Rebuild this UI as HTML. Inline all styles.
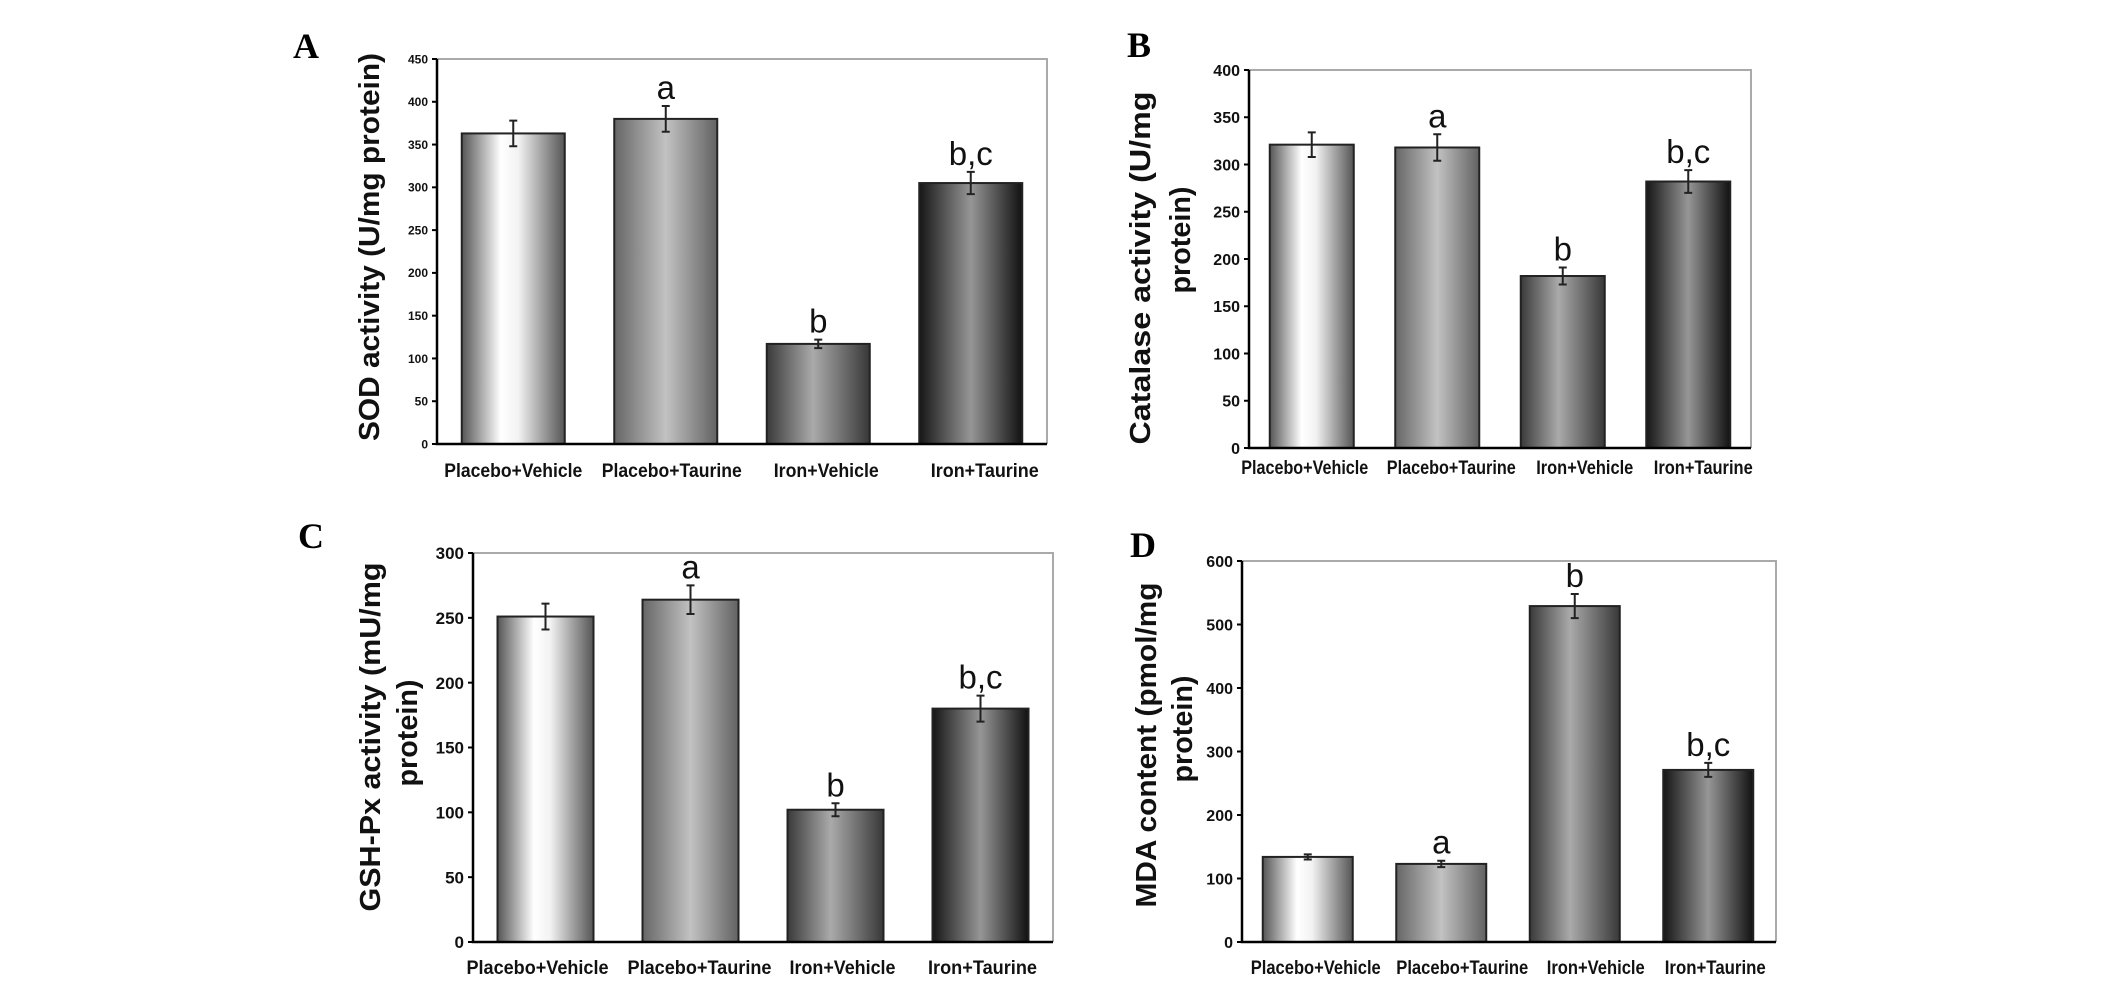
<!DOCTYPE html>
<html><head><meta charset="utf-8"><style>
html,body{margin:0;padding:0;background:#fff;}
svg{display:block;}
.tk{font-family:"Liberation Sans Narrow","Liberation Sans",sans-serif;font-weight:bold;fill:#111;}
.xl{font-family:"Liberation Sans Narrow","Liberation Sans",sans-serif;font-weight:bold;fill:#111;font-size:19px;}
.yt{font-family:"Liberation Sans",sans-serif;font-weight:bold;fill:#111;font-size:29px;}
.sig{font-family:"Liberation Sans",sans-serif;fill:#111;font-size:33px;}
.pl{font-family:"Liberation Serif",serif;font-weight:bold;fill:#000;font-size:36px;}
</style></head><body>
<svg id="fig" width="2126" height="984" viewBox="0 0 2126 984" xmlns="http://www.w3.org/2000/svg">
<defs>
<linearGradient id="g0" x1="0" x2="1" y1="0" y2="0"><stop offset="0" stop-color="#555"/><stop offset="0.38" stop-color="#fff"/><stop offset="0.55" stop-color="#f2f2f2"/><stop offset="1" stop-color="#555"/></linearGradient>
<linearGradient id="g1" x1="0" x2="1" y1="0" y2="0"><stop offset="0" stop-color="#666"/><stop offset="0.5" stop-color="#c2c2c2"/><stop offset="1" stop-color="#626262"/></linearGradient>
<linearGradient id="g2" x1="0" x2="1" y1="0" y2="0"><stop offset="0" stop-color="#3a3a3a"/><stop offset="0.45" stop-color="#aaa"/><stop offset="1" stop-color="#383838"/></linearGradient>
<linearGradient id="g3" x1="0" x2="1" y1="0" y2="0"><stop offset="0" stop-color="#161616"/><stop offset="0.5" stop-color="#969696"/><stop offset="1" stop-color="#111"/></linearGradient>
</defs>
</svg>
<script>
// ---- data ----
const categories = ["Placebo+Vehicle","Placebo+Taurine","Iron+Vehicle","Iron+Taurine"];
const sodValues = [363, 380, 117, 305];
const sodErrors = [15, 15, 5, 13];
const sodLetters = ["", "a", "b", "b,c"];
const sodTicks = [0,50,100,150,200,250,300,350,400,450];
const catValues = [321, 318, 182, 282];
const catErrors = [13, 14, 9, 12];
const catLetters = ["", "a", "b", "b,c"];
const catTicks = [0,50,100,150,200,250,300,350,400];
const gshValues = [251, 264, 102, 180];
const gshErrors = [10, 11, 5, 10];
const gshLetters = ["", "a", "b", "b,c"];
const gshTicks = [0,50,100,150,200,250,300];
const mdaValues = [134, 123, 529, 271];
const mdaErrors = [4, 5, 19, 11];
const mdaLetters = ["", "a", "b", "b,c"];
const mdaTicks = [0,100,200,300,400,500,600];

const NS = "http://www.w3.org/2000/svg";
const svg = document.getElementById("fig");
function mk(tag, attrs, parent){
  const e = document.createElementNS(NS, tag);
  for (const k in attrs) e.setAttribute(k, attrs[k]);
  (parent||svg).appendChild(e);
  return e;
}

function panel(p){
  const g = mk("g", {});
  
  
  const max = p.ticks[p.ticks.length-1];
  const y = v => p.y0 - (v/max)*(p.y0 - p.yTop);
  const step = (p.x1 - p.x0)/4;
  const xc = i => p.x0 + step*(i+0.5) + p.shift;
  const fr = mk("path", {d:`M${p.x0},${p.yTop} H${p.x1} V${p.y0}`, fill:"none", stroke:"#aaa", "stroke-width":2}, g);
  
  
  p.values.forEach((v,i)=>{
    const r = mk("rect", {x:xc(i)-p.bw/2, y:y(v), width:p.bw, height:p.y0-y(v), fill:`url(#g${i})`, stroke:"#222", "stroke-width":2}, g);
    
    
    const e = p.errors[i], top = y(v+e), bot = y(v-e), c = xc(i);
    const eb = mk("path", {d:`M${c},${top} V${bot} M${c-4},${top} H${c+4} M${c-4},${bot} H${c+4}`, stroke:"#222", "stroke-width":2, fill:"none"}, g);
    
    
    if (p.letters[i]) {
      const t = mk("text", {x:c, y:top-7, "text-anchor":"middle", class:"sig"}, g);
      t.textContent = p.letters[i];
      
      
    }
    const xl = mk("text", {x:c + p.loff[i], y:p.xly, "text-anchor":"middle", class:"xl", textLength:p.lw[i], lengthAdjust:"spacingAndGlyphs"}, g);
    xl.textContent = categories[i];
    
    
  });
  const ax = mk("path", {d:`M${p.x0},${p.yTop} V${p.y0} H${p.x1}`, fill:"none", stroke:"#000", "stroke-width":2.5}, g);
  
  
  p.ticks.forEach(t=>{
    const ty = y(t);
    const tl = mk("line", {x1:p.x0-5, x2:p.x0, y1:ty, y2:ty, stroke:"#000", "stroke-width":2}, g);
    
    
    const tt = mk("text", {x:p.x0-9, y:ty+p.tfs*0.36, "text-anchor":"end", class:"tk", "font-size":p.tfs}, g);
    tt.textContent = t;
    
    
  });
  p.title.forEach((ln,k)=>{
    const t = mk("text", {x:0, y:0, "text-anchor":"middle", class:"yt", transform:`translate(${ln.x},${ln.cy}) rotate(-90)`, textLength:ln.len, lengthAdjust:"spacingAndGlyphs", dy:"0.35em"}, g);
    t.textContent = ln.s;
    
    
  });
  const L = mk("text", {x:p.lx, y:p.ly, class:"pl"}, g);
  L.textContent = p.key;
  
  
}

panel({key:"A", x0:437, x1:1047, yTop:59, y0:444, shift:0, bw:103, values:sodValues, errors:sodErrors, letters:sodLetters, ticks:sodTicks, tfs:12, xly:477,
  lw:[138,140,105,108], loff:[0,6,8,14],
  title:[{s:"SOD activity (U/mg protein)", x:369, cy:247, len:388}], lx:293, ly:58});
panel({key:"B", x0:1249, x1:1751, yTop:70, y0:448, shift:0, bw:84, values:catValues, errors:catErrors, letters:catLetters, ticks:catTicks, tfs:16, xly:474,
  lw:[127,129,97,99], loff:[-7,14,22,15],
  title:[{s:"Catalase activity (U/mg", x:1140, cy:268, len:353},{s:"protein)", x:1180, cy:240, len:107}], lx:1127, ly:57});
panel({key:"C", x0:473, x1:1053, yTop:553, y0:942, shift:0, bw:96, values:gshValues, errors:gshErrors, letters:gshLetters, ticks:gshTicks, tfs:17, xly:974,
  lw:[142,144,106,109], loff:[-8,9,7,2],
  title:[{s:"GSH-Px activity (mU/mg", x:370, cy:737, len:349},{s:"protein)", x:407, cy:733, len:107}], lx:298, ly:548});
panel({key:"D", x0:1242, x1:1776, yTop:561, y0:942, shift:-1, bw:90, values:mdaValues, errors:mdaErrors, letters:mdaLetters, ticks:mdaTicks, tfs:16, xly:974,
  lw:[130,132,98,101], loff:[8,21,21,7],
  title:[{s:"MDA content (pmol/mg", x:1146, cy:745, len:325},{s:"protein)", x:1182, cy:729, len:107}], lx:1130, ly:557});
</script>
</body></html>
